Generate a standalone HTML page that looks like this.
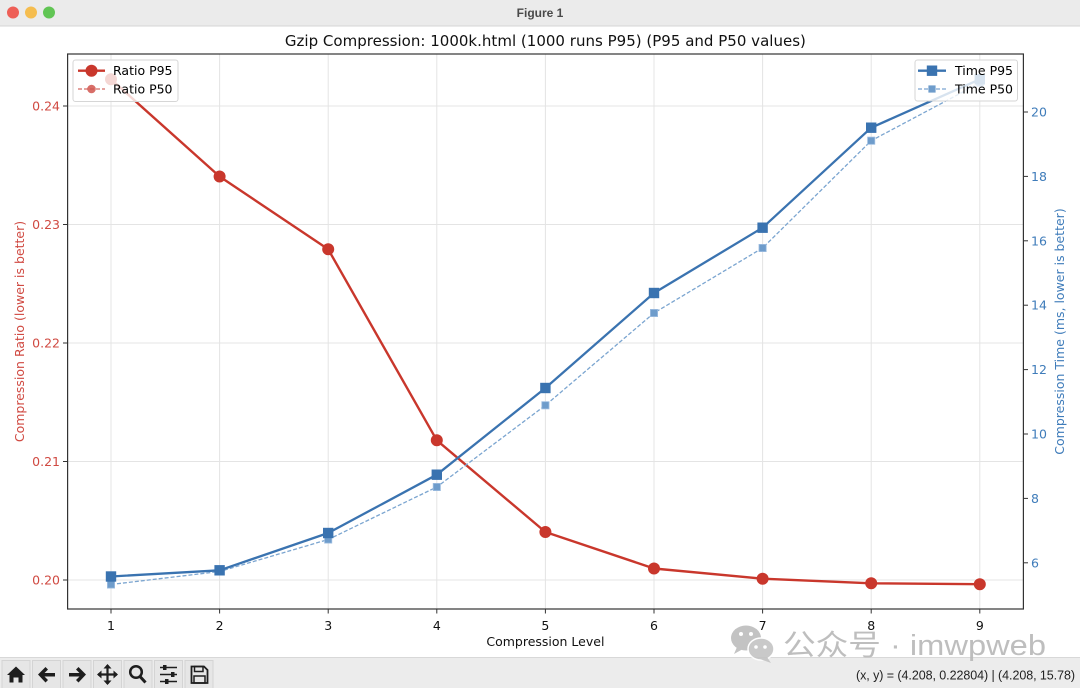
<!DOCTYPE html>
<html><head><meta charset="utf-8"><style>
html,body{margin:0;padding:0;background:#fff;}
svg{display:block;}
</style></head><body>
<svg width="1080" height="688" viewBox="0 0 1080 688" xmlns="http://www.w3.org/2000/svg">
<!-- window background -->
<rect x="0" y="0" width="1080" height="688" fill="#ffffff"/>
<!-- title bar -->
<rect x="0" y="0" width="1080" height="26" fill="#ebebeb"/>
<line x1="0" y1="26" x2="1080" y2="26" stroke="#d4d4d4" stroke-width="1"/>
<circle cx="13" cy="12.5" r="6" fill="#ee5f57"/>
<circle cx="31" cy="12.5" r="6" fill="#f5bd4f"/>
<circle cx="49" cy="12.5" r="6" fill="#61c554"/>
<text x="540" y="17" text-anchor="middle" font-family="'Liberation Sans',sans-serif" font-size="12" font-weight="bold" fill="#4a4a4a">Figure 1</text>

<!-- grid -->
<g stroke="#e4e4e4" stroke-width="1">
<line x1="111" y1="54" x2="111" y2="609"/>
<line x1="219.6" y1="54" x2="219.6" y2="609"/>
<line x1="328.2" y1="54" x2="328.2" y2="609"/>
<line x1="436.8" y1="54" x2="436.8" y2="609"/>
<line x1="545.4" y1="54" x2="545.4" y2="609"/>
<line x1="654" y1="54" x2="654" y2="609"/>
<line x1="762.6" y1="54" x2="762.6" y2="609"/>
<line x1="871.2" y1="54" x2="871.2" y2="609"/>
<line x1="979.8" y1="54" x2="979.8" y2="609"/>
<line x1="67.6" y1="106" x2="1023.4" y2="106"/>
<line x1="67.6" y1="224.5" x2="1023.4" y2="224.5"/>
<line x1="67.6" y1="343" x2="1023.4" y2="343"/>
<line x1="67.6" y1="461.5" x2="1023.4" y2="461.5"/>
<line x1="67.6" y1="580" x2="1023.4" y2="580"/>
</g>

<!-- red series -->
<polyline fill="none" stroke="#c9372c" stroke-width="2.4" stroke-linejoin="round" points="111,79.3 219.6,176.5 328.2,249.3 436.8,440.3 545.4,532 654,568.5 762.6,578.7 871.2,583.3 979.8,584.2"/>
<g fill="#c9372c">
<circle cx="111" cy="79.3" r="6"/>
<circle cx="219.6" cy="176.5" r="6"/>
<circle cx="328.2" cy="249.3" r="6"/>
<circle cx="436.8" cy="440.3" r="6"/>
<circle cx="545.4" cy="532" r="6"/>
<circle cx="654" cy="568.5" r="6"/>
<circle cx="762.6" cy="578.7" r="6"/>
<circle cx="871.2" cy="583.3" r="6"/>
<circle cx="979.8" cy="584.2" r="6"/>
</g>

<!-- left legend (ax1) -->
<rect x="73" y="60" width="105" height="41.5" rx="2.5" fill="#ffffff" fill-opacity="0.8" stroke="#d6d6d6" stroke-width="1"/>
<line x1="78" y1="70.7" x2="105" y2="70.7" stroke="#c9372c" stroke-width="2.4"/>
<circle cx="91.5" cy="70.7" r="6" fill="#c9372c"/>
<line x1="78" y1="89" x2="105" y2="89" stroke="#d46a63" stroke-width="1.3" stroke-dasharray="4,2"/>
<circle cx="91.5" cy="89" r="4.3" fill="#d1554d" fill-opacity="0.85"/>
<text x="113" y="75" font-family="'DejaVu Sans',sans-serif" font-size="12.5" fill="#000">Ratio P95</text>
<text x="113" y="93.5" font-family="'DejaVu Sans',sans-serif" font-size="12.5" fill="#000">Ratio P50</text>

<!-- blue series -->
<polyline fill="none" stroke="#7ba5d0" stroke-width="1.3" stroke-dasharray="4,2" points="111,584.5 219.6,571.5 328.2,539.5 436.8,487 545.4,405.3 654,313 762.6,248 871.2,140.7 979.8,83"/>
<g fill="#6e9ccb" stroke="#9dbde0" stroke-width="0.8">
<rect x="107.4" y="580.9" width="7.2" height="7.2"/>
<rect x="216" y="567.9" width="7.2" height="7.2"/>
<rect x="324.6" y="535.9" width="7.2" height="7.2"/>
<rect x="433.2" y="483.4" width="7.2" height="7.2"/>
<rect x="541.8" y="401.7" width="7.2" height="7.2"/>
<rect x="650.4" y="309.4" width="7.2" height="7.2"/>
<rect x="759" y="244.4" width="7.2" height="7.2"/>
<rect x="867.6" y="137.1" width="7.2" height="7.2"/>
<rect x="976.2" y="79.4" width="7.2" height="7.2"/>
</g>
<polyline fill="none" stroke="#3a73b0" stroke-width="2.3" stroke-linejoin="round" points="111,576.5 219.6,570.3 328.2,533 436.8,474.7 545.4,388 654,293 762.6,227.7 871.2,127.7 979.8,79.3"/>
<g fill="#3a73b0">
<rect x="105.8" y="571.3" width="10.4" height="10.4"/>
<rect x="214.4" y="565.1" width="10.4" height="10.4"/>
<rect x="323" y="527.8" width="10.4" height="10.4"/>
<rect x="431.6" y="469.5" width="10.4" height="10.4"/>
<rect x="540.2" y="382.8" width="10.4" height="10.4"/>
<rect x="648.8" y="287.8" width="10.4" height="10.4"/>
<rect x="757.4" y="222.5" width="10.4" height="10.4"/>
<rect x="866" y="122.5" width="10.4" height="10.4"/>
<rect x="974.6" y="74.1" width="10.4" height="10.4"/>
</g>

<!-- right legend (ax2) -->
<rect x="915" y="60" width="102.5" height="41" rx="2.5" fill="#ffffff" fill-opacity="0.8" stroke="#d6d6d6" stroke-width="1"/>
<line x1="918" y1="70.7" x2="946" y2="70.7" stroke="#3a73b0" stroke-width="2.3"/>
<rect x="926.8" y="65.5" width="10.4" height="10.4" fill="#3a73b0"/>
<line x1="918" y1="89" x2="946" y2="89" stroke="#7ba5d0" stroke-width="1.3" stroke-dasharray="4,2"/>
<rect x="928.4" y="85.4" width="7.2" height="7.2" fill="#6e9ccb"/>
<text x="955" y="75" font-family="'DejaVu Sans',sans-serif" font-size="12.5" fill="#000">Time P95</text>
<text x="955" y="93.5" font-family="'DejaVu Sans',sans-serif" font-size="12.5" fill="#000">Time P50</text>

<!-- frame -->
<rect x="67.6" y="54" width="955.8" height="555" fill="none" stroke="#333" stroke-width="1.2"/>

<!-- ticks -->
<g stroke="#333" stroke-width="1">
<line x1="111" y1="609" x2="111" y2="613.5"/>
<line x1="219.6" y1="609" x2="219.6" y2="613.5"/>
<line x1="328.2" y1="609" x2="328.2" y2="613.5"/>
<line x1="436.8" y1="609" x2="436.8" y2="613.5"/>
<line x1="545.4" y1="609" x2="545.4" y2="613.5"/>
<line x1="654" y1="609" x2="654" y2="613.5"/>
<line x1="762.6" y1="609" x2="762.6" y2="613.5"/>
<line x1="871.2" y1="609" x2="871.2" y2="613.5"/>
<line x1="979.8" y1="609" x2="979.8" y2="613.5"/>
<line x1="63" y1="106" x2="67.6" y2="106"/>
<line x1="63" y1="224.5" x2="67.6" y2="224.5"/>
<line x1="63" y1="343" x2="67.6" y2="343"/>
<line x1="63" y1="461.5" x2="67.6" y2="461.5"/>
<line x1="63" y1="580" x2="67.6" y2="580"/>
<line x1="1023.4" y1="112" x2="1028" y2="112"/>
<line x1="1023.4" y1="176.4" x2="1028" y2="176.4"/>
<line x1="1023.4" y1="240.8" x2="1028" y2="240.8"/>
<line x1="1023.4" y1="305.2" x2="1028" y2="305.2"/>
<line x1="1023.4" y1="369.6" x2="1028" y2="369.6"/>
<line x1="1023.4" y1="434" x2="1028" y2="434"/>
<line x1="1023.4" y1="498.4" x2="1028" y2="498.4"/>
<line x1="1023.4" y1="562.8" x2="1028" y2="562.8"/>
</g>
<g font-family="'DejaVu Sans',sans-serif" font-size="12.5" fill="#111" text-anchor="middle">
<text x="111" y="630">1</text>
<text x="219.6" y="630">2</text>
<text x="328.2" y="630">3</text>
<text x="436.8" y="630">4</text>
<text x="545.4" y="630">5</text>
<text x="654" y="630">6</text>
<text x="762.6" y="630">7</text>
<text x="871.2" y="630">8</text>
<text x="979.8" y="630">9</text>
<text x="545.4" y="646">Compression Level</text>
</g>
<g font-family="'DejaVu Sans',sans-serif" font-size="12.5" fill="#d04a42" text-anchor="end">
<text x="60" y="110.5">0.24</text>
<text x="60" y="229">0.23</text>
<text x="60" y="347.5">0.22</text>
<text x="60" y="466">0.21</text>
<text x="60" y="584.5">0.20</text>
</g>
<g font-family="'DejaVu Sans',sans-serif" font-size="12.5" fill="#3f7cba" text-anchor="start">
<text x="1031" y="116.5">20</text>
<text x="1031" y="180.9">18</text>
<text x="1031" y="245.3">16</text>
<text x="1031" y="309.7">14</text>
<text x="1031" y="374.1">12</text>
<text x="1031" y="438.5">10</text>
<text x="1031" y="502.9">8</text>
<text x="1031" y="567.3">6</text>
</g>
<text transform="translate(24,331.5) rotate(-90)" text-anchor="middle" font-family="'DejaVu Sans',sans-serif" font-size="12.5" fill="#d04a42">Compression Ratio (lower is better)</text>
<text transform="translate(1064,331.5) rotate(-90)" text-anchor="middle" font-family="'DejaVu Sans',sans-serif" font-size="12.5" fill="#3f7cba">Compression Time (ms, lower is better)</text>

<!-- title -->
<text x="545.4" y="46" text-anchor="middle" font-family="'DejaVu Sans',sans-serif" font-size="15" fill="#111" textLength="521">Gzip Compression: 1000k.html (1000 runs P95) (P95 and P50 values)</text>

<!-- toolbar -->
<rect x="0" y="657" width="1080" height="31" fill="#ececec"/>
<line x1="0" y1="657.5" x2="1080" y2="657.5" stroke="#d8d8d8" stroke-width="1"/>
<g fill="#e6e6e6" stroke="#d4d4d4" stroke-width="1">
<rect x="2" y="660.5" width="28" height="28"/>
<rect x="32.5" y="660.5" width="28" height="28"/>
<rect x="63" y="660.5" width="28" height="28"/>
<rect x="93.5" y="660.5" width="28" height="28"/>
<rect x="124" y="660.5" width="28" height="28"/>
<rect x="154.5" y="660.5" width="28" height="28"/>
<rect x="185" y="660.5" width="28" height="28"/>
</g>
<g fill="#1e1e1e" stroke="#1e1e1e">
<path d="M7 675 L16 666.5 L25 675 L22.5 675 L22.5 682.5 L18.5 682.5 L18.5 677.5 L13.5 677.5 L13.5 682.5 L9.5 682.5 L9.5 675 Z" stroke="none"/>
<path d="M38 674.5 L45.5 667 L48 669.5 L44.5 673 L55 673 L55 676.5 L44.5 676.5 L48 680 L45.5 682.5 Z" stroke="none"/>
<path d="M86 674.5 L78.5 667 L76 669.5 L79.5 673 L69 673 L69 676.5 L79.5 676.5 L76 680 L78.5 682.5 Z" stroke="none"/>
<g stroke-width="2.2" fill="none"><line x1="107.5" y1="665" x2="107.5" y2="684"/><line x1="98" y1="674.5" x2="117" y2="674.5"/></g>
<path d="M107.5 664 L103.5 668.5 L111.5 668.5 Z M107.5 685 L103.5 680.5 L111.5 680.5 Z M97 674.5 L101.5 670.5 L101.5 678.5 Z M118 674.5 L113.5 670.5 L113.5 678.5 Z" stroke="none"/>
<circle cx="136" cy="672" r="5.8" fill="none" stroke-width="2.5"/>
<line x1="140" y1="676.5" x2="145.5" y2="682.5" stroke-width="3"/>
<g stroke-width="1.6"><line x1="160" y1="667.5" x2="177" y2="667.5"/><line x1="160" y1="674.5" x2="177" y2="674.5"/><line x1="160" y1="681.5" x2="177" y2="681.5"/></g>
<rect x="163" y="665" width="3.5" height="5" stroke="none"/>
<rect x="171" y="672" width="3.5" height="5" stroke="none"/>
<rect x="165" y="679" width="3.5" height="5" stroke="none"/>
<path d="M191.5 666.5 L204 666.5 L207.5 670 L207.5 683 L191.5 683 Z" fill="none" stroke-width="1.8"/>
<rect x="194.5" y="666.5" width="8.5" height="5" fill="none" stroke-width="1.5"/>
<rect x="194" y="676" width="11" height="7" fill="none" stroke-width="1.5"/>
</g>
<text x="1075" y="679.5" text-anchor="end" font-family="'Liberation Sans',sans-serif" font-size="12.5" fill="#222" textLength="219">(x, y) = (4.208, 0.22804) | (4.208, 15.78)</text>

<!-- watermark (on top of everything) -->
<g opacity="0.9">
<ellipse cx="746" cy="638" rx="15" ry="12.5" fill="#bdbdbd"/>
<path d="M737 647 L734 654 L743 649 Z" fill="#bdbdbd"/>
<circle cx="741" cy="634" r="2" fill="#fff"/>
<circle cx="751" cy="634" r="2" fill="#fff"/>
<ellipse cx="761" cy="649" rx="13" ry="11" fill="#c4c4c4" stroke="#fff" stroke-width="1.5"/>
<path d="M767 657 L771 663 L760 659 Z" fill="#c4c4c4"/>
<circle cx="756" cy="647" r="1.8" fill="#fff"/>
<circle cx="765" cy="647" r="1.8" fill="#fff"/>
<text x="783" y="655" font-family="'Liberation Sans','Noto Sans CJK SC',sans-serif" font-size="29" fill="#b8b8b8" textLength="263" lengthAdjust="spacingAndGlyphs">公众号 · imwpweb</text>
</g>
</svg>
</body></html>
